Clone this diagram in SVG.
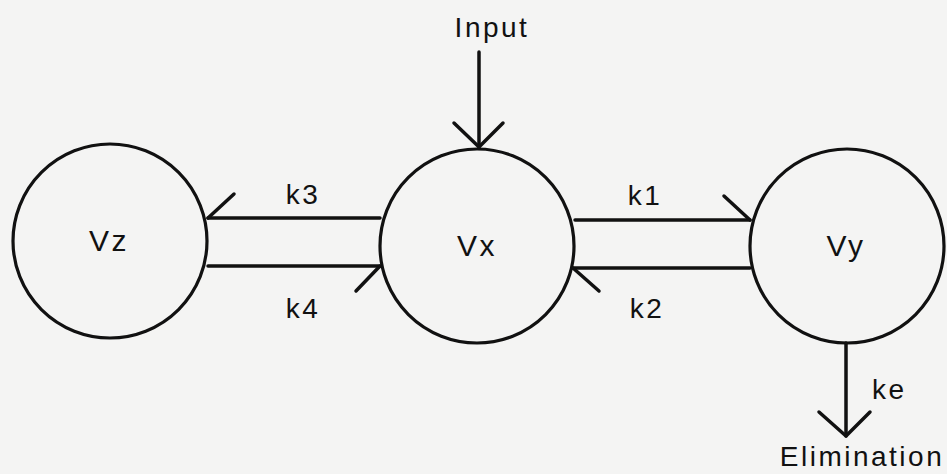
<svg xmlns="http://www.w3.org/2000/svg" width="947" height="474" viewBox="0 0 947 474">
<style>
.n{fill:none;stroke:#111;stroke-width:3.2}
.c line,.c polyline{stroke:#111;stroke-width:3.5;fill:none;stroke-linecap:round;stroke-linejoin:round}
text{font-family:"Liberation Sans",Arial,sans-serif;font-size:28px;fill:#111;letter-spacing:2.5px}
.m{text-anchor:middle}
.v{font-size:30px}
</style>
<rect width="947" height="474" fill="#f4f4f3"/>
<g id="Vz"><circle class="n" cx="110" cy="241" r="97"/><text class="m v" x="109" y="251">Vz</text></g>
<g id="Vx"><circle class="n" cx="477" cy="246" r="97"/><text class="m v" x="477" y="256">Vx</text></g>
<g id="Vy"><circle class="n" cx="847" cy="246" r="97"/><text class="m v" x="846" y="256">Vy</text></g>
<g id="input"><text class="m" x="492" y="37">Input</text></g>
<g id="elimination"><text class="m" x="862" y="466">Elimination</text></g>
<g class="c" id="connectors">
<line x1="380" y1="218" x2="208" y2="218"/><line x1="208" y1="218" x2="234" y2="194"/>
<line x1="208" y1="266" x2="380" y2="266"/><line x1="380" y1="266" x2="356" y2="291"/>
<line x1="575" y1="220" x2="750" y2="220"/><line x1="750" y1="220" x2="724" y2="196"/>
<line x1="750" y1="268" x2="573" y2="268"/><line x1="573" y1="268" x2="599" y2="291"/>
<line x1="479" y1="52" x2="479" y2="147"/><polyline points="454,123 479,147 503,123"/>
<line x1="846" y1="343" x2="846" y2="436"/><polyline points="819,412 846,436 870,412"/>
</g>
<g id="labels">
<text class="m" x="303" y="204">k3</text>
<text class="m" x="303" y="318">k4</text>
<text class="m" x="645" y="205">k1</text>
<text class="m" x="647" y="318">k2</text>
<text x="872" y="399">ke</text>
</g>
</svg>
